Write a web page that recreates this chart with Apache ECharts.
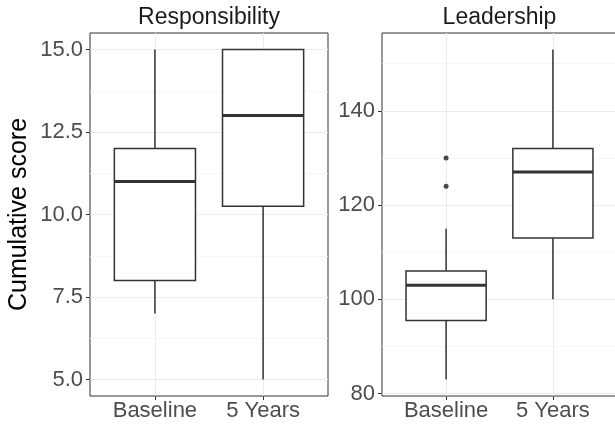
<!DOCTYPE html>
<html><head><meta charset="utf-8">
<script src="https://cdn.jsdelivr.net/npm/echarts@6/dist/echarts.min.js"></script>
<style>html,body{margin:0;padding:0;background:#fff}#c{width:615px;height:426px}</style>
</head><body><div id="c"></div>
<script>
const categories = ['Baseline', '5 Years'];
const panelTitles = ['Responsibility', 'Leadership'];
const yTitle = 'Cumulative score';
// each box: [lower whisker, Q1, median, Q3, upper whisker]
const responsibilityBoxes = [[7, 8, 11, 12, 15], [5, 10.25, 13, 15, 15]];
const leadershipBoxes = [[83, 95.5, 103, 106, 115], [100, 113, 127, 132, 153]];
const leadershipOutliers = [[0, 130], [0, 124]]; // [category index, value]
const responsibilityTicks = [5, 7.5, 10, 12.5, 15];
const responsibilityMinor = [6.25, 8.75, 11.25, 13.75];
const leadershipTicks = [80, 100, 120, 140];
const leadershipMinor = [90, 110, 130, 150];
const responsibilityRange = [4.5, 15.5];
const leadershipRange = [79.5, 156.5];

const FONT = 'Liberation Sans, Arial, Helvetica, sans-serif';
const catPos = categories.map((c, i) => i + 1);

function renderBox(params, api) {
  const x = api.value(0);
  const c = v => api.coord([x, v]);
  const w = api.size([0.75, 0])[0];
  const pMin = c(api.value(1)), pQ1 = c(api.value(2)), pMed = c(api.value(3)),
        pQ3 = c(api.value(4)), pMax = c(api.value(5));
  const cx = pMin[0];
  const ls = { stroke: '#333333', lineWidth: 1.5, fill: null };
  return {
    type: 'group',
    children: [
      { type: 'line', shape: { x1: cx, y1: pMax[1], x2: cx, y2: pQ3[1] }, style: ls },
      { type: 'line', shape: { x1: cx, y1: pQ1[1], x2: cx, y2: pMin[1] }, style: ls },
      { type: 'rect', shape: { x: cx - w / 2, y: pQ3[1], width: w, height: pQ1[1] - pQ3[1] },
        style: { stroke: '#333333', lineWidth: 1.5, fill: '#ffffff' } },
      { type: 'line', shape: { x1: cx - w / 2, y1: pMed[1], x2: cx + w / 2, y2: pMed[1] },
        style: { stroke: '#333333', lineWidth: 3 } }
    ]
  };
}

function catLabel(v) {
  const i = catPos.indexOf(v);
  return i >= 0 ? categories[i] : '';
}

function xAxisFor(gridIndex) {
  return {
    type: 'value', gridIndex, position: 'bottom', min: 0.4, max: 2.6,
    axisLine: { show: false },
    axisTick: { show: true, length: 4, customValues: catPos, lineStyle: { color: '#333333', width: 1 } },
    axisLabel: { customValues: catPos, formatter: catLabel,
      color: '#4d4d4d', fontSize: 22, fontFamily: FONT, margin: 4 },
    splitLine: { show: true, lineStyle: { color: '#ebebeb', width: 1 } }
  };
}
function yMajor(gridIndex, range, ticks, fmt, withName) {
  const ax = {
    type: 'value', gridIndex, position: 'left', min: range[0], max: range[1],
    axisLine: { show: false },
    axisTick: { show: true, length: 4, customValues: ticks, lineStyle: { color: '#333333', width: 1 } },
    axisLabel: { customValues: ticks, formatter: fmt, color: '#4d4d4d', fontSize: 22, fontFamily: FONT, margin: 7 },
    splitLine: { show: true, lineStyle: { color: '#ebebeb', width: 1.2 } }
  };
  if (withName) {
    Object.assign(ax, { name: yTitle, nameLocation: 'middle', nameGap: 58,
      nameTextStyle: { fontSize: 25, fontFamily: FONT, color: '#000000' } });
  }
  return ax;
}
function yMinor(gridIndex, range, ticks) {
  return {
    type: 'value', gridIndex, position: 'left', min: range[0], max: range[1],
    axisLine: { show: false },
    axisTick: { show: false, customValues: ticks },
    axisLabel: { show: false },
    splitLine: { show: true, lineStyle: { color: '#f2f2f2', width: 0.8 } }
  };
}
function stripTitle(text, centerX) {
  return { text, left: centerX, top: 6, padding: 0, textAlign: 'center', textVerticalAlign: 'top',
    textStyle: { fontSize: 23, fontWeight: 'normal', fontFamily: FONT, color: '#1a1a1a' } };
}

const gridBase = { top: 33, height: 363, show: true, borderColor: '#333333', borderWidth: 1,
  backgroundColor: 'transparent', containLabel: false, outerBoundsMode: 'none' };

const chart = echarts.init(document.getElementById('c'), null, { renderer: 'canvas' });
chart.setOption({
  backgroundColor: '#ffffff',
  animation: false,
  title: [stripTitle(panelTitles[0], 209), stripTitle(panelTitles[1], 499.5)],
  grid: [
    Object.assign({ left: 90, width: 238 }, gridBase),
    Object.assign({ left: 382, width: 235 }, gridBase)
  ],
  xAxis: [xAxisFor(0), xAxisFor(1)],
  yAxis: [
    yMinor(0, responsibilityRange, responsibilityMinor),
    yMajor(0, responsibilityRange, responsibilityTicks, v => v.toFixed(1), true),
    yMinor(1, leadershipRange, leadershipMinor),
    yMajor(1, leadershipRange, leadershipTicks, v => String(v), false)
  ],
  series: [
    { type: 'custom', xAxisIndex: 0, yAxisIndex: 1, renderItem: renderBox, clip: false,
      encode: { x: 0, y: [1, 2, 3, 4, 5] },
      data: responsibilityBoxes.map((b, i) => [catPos[i]].concat(b)) },
    { type: 'custom', xAxisIndex: 1, yAxisIndex: 3, renderItem: renderBox, clip: false,
      encode: { x: 0, y: [1, 2, 3, 4, 5] },
      data: leadershipBoxes.map((b, i) => [catPos[i]].concat(b)) },
    { type: 'scatter', xAxisIndex: 1, yAxisIndex: 3, symbol: 'circle', symbolSize: 5,
      itemStyle: { color: '#1a1a1a' },
      data: leadershipOutliers.map(o => [catPos[o[0]], o[1]]) }
  ]
});
</script></body></html>
